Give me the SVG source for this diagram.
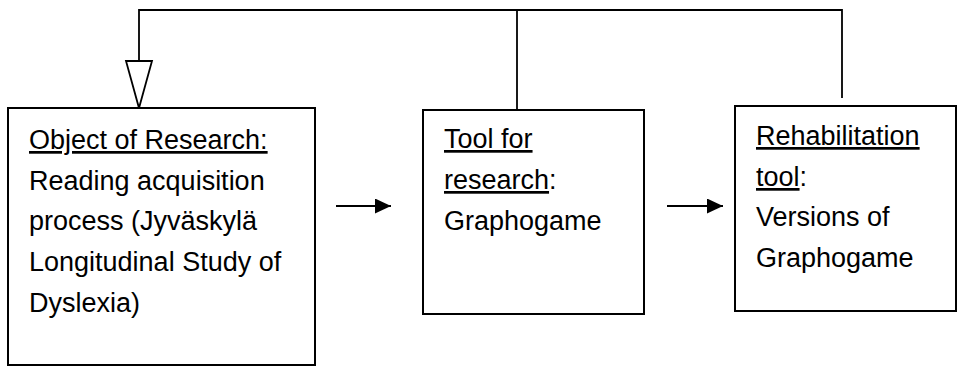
<svg xmlns="http://www.w3.org/2000/svg" width="960" height="374" viewBox="0 0 960 374">
<defs>
<style>
.box{fill:#fff;stroke:#000;stroke-width:2}
.ln{fill:none;stroke:#000;stroke-width:1.8}
.t{font-family:"Liberation Sans",Arial,sans-serif;font-size:27px;fill:#000}
.u{text-decoration:underline}
</style>
<marker id="ah" viewBox="0 0 16 15" refX="16" refY="7.5" markerWidth="16" markerHeight="15" markerUnits="userSpaceOnUse" orient="auto">
<path d="M0,0 L16,7.5 L0,15 Z" fill="#000"/>
</marker>
</defs>
<rect width="960" height="374" fill="#fff"/>
<g id="connectors">
<polyline class="ln" points="842,98 842,10 139,10 139,61"/>
<polygon points="126,61 152,61 139,108" fill="#fff" stroke="#000" stroke-width="1.8"/>
<line class="ln" x1="517" y1="10" x2="517" y2="109"/>
<line class="ln" x1="336" y1="206" x2="391" y2="206" marker-end="url(#ah)"/>
<line class="ln" x1="667" y1="206" x2="723" y2="206" marker-end="url(#ah)"/>
</g>
<g id="node-object">
<rect class="box" x="8" y="108" width="307" height="257"/>
<text class="t" x="29" y="149"><tspan class="u">Object of Research:</tspan></text>
<text class="t" x="29" y="190">Reading acquisition</text>
<text class="t" x="29" y="230">process (Jyväskylä</text>
<text class="t" x="29" y="271">Longitudinal Study of</text>
<text class="t" x="29" y="312">Dyslexia)</text>
</g>
<g id="node-tool">
<rect class="box" x="423" y="110" width="221" height="204"/>
<text class="t" x="444" y="148"><tspan class="u">Tool for</tspan></text>
<text class="t" x="444" y="189"><tspan class="u">research</tspan>:</text>
<text class="t" x="444" y="230">Graphogame</text>
</g>
<g id="node-rehab">
<rect class="box" x="735" y="106" width="221" height="205"/>
<text class="t" x="756" y="145"><tspan class="u">Rehabilitation</tspan></text>
<text class="t" x="756" y="186"><tspan class="u">tool</tspan>:</text>
<text class="t" x="756" y="226">Versions of</text>
<text class="t" x="756" y="267">Graphogame</text>
</g>
</svg>
